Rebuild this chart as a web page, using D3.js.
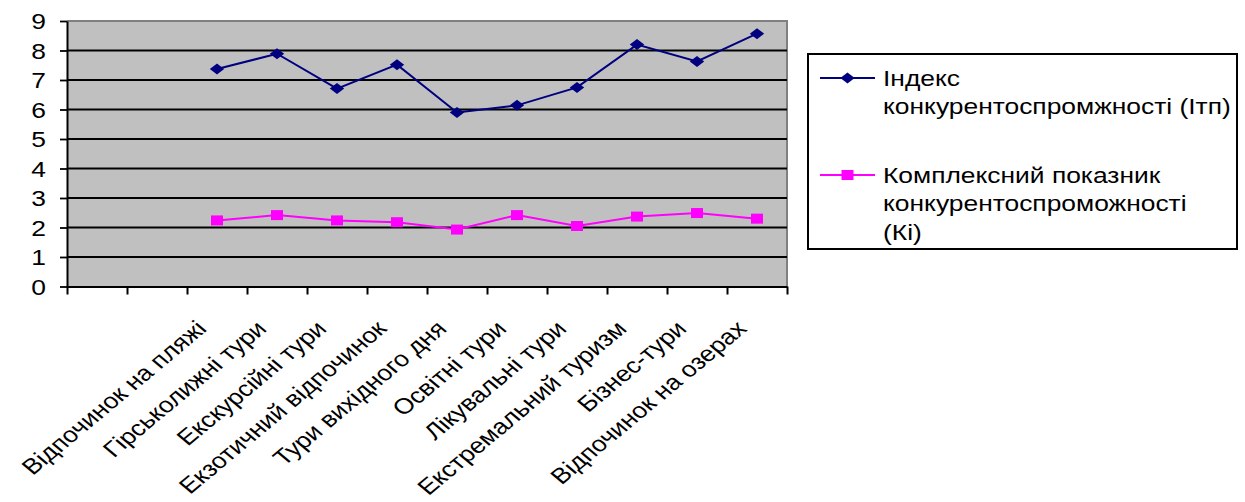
<!DOCTYPE html>
<html>
<head>
<meta charset="utf-8">
<script src="https://cdn.jsdelivr.net/npm/d3@7/dist/d3.min.js"></script>
<style>
  body { margin: 0; background: #fff; }
  svg { display: block; }
  text { font-family: "Liberation Sans", Arial, sans-serif; font-size: 22px; fill: #000; }
</style>
</head>
<body>
<svg id="chart" width="1245" height="502"></svg>
<script>
// Tour types along the horizontal axis
const categories = [
  "Відпочинок на пляжі", "Гірськолижні тури", "Екскурсійні тури",
  "Екзотичний відпочинок", "Тури вихідного дня", "Освітні тури",
  "Лікувальні тури", "Екстремальний туризм", "Бізнес-тури", "Відпочинок на озерах"
];
// Competitiveness index (Iтп)
const indexValues = [7.37, 7.89, 6.71, 7.52, 5.90, 6.14, 6.75, 8.20, 7.63, 8.57];
// Complex competitiveness indicator (Кі)
const complexValues = [2.24, 2.42, 2.24, 2.18, 1.93, 2.42, 2.05, 2.37, 2.49, 2.30];
// Vertical axis ticks
const yTicks = [0, 1, 2, 3, 4, 5, 6, 7, 8, 9];
// Legend entries, one array of lines per series
const legendLines = [
  ["Індекс", "конкурентоспромжності (Iтп)"],
  ["Комплексний показник", "конкурентоспроможності", "(Кі)"]
];
// Empty category slots before the first labelled one
const emptySlots = 2;

const S = 1.2; // horizontal widening of glyphs and markers
const svg = d3.select("#chart");

const plot = { left: 67, right: 787, top: 21, bottom: 286.5 };
const slotCount = emptySlots + categories.length;

const x = d3.scaleBand().domain(d3.range(slotCount)).range([plot.left, plot.right]).padding(0);
const xEdge = d3.scaleLinear().domain([0, slotCount]).range([plot.left, plot.right]);
const y = d3.scaleLinear().domain([0, 9]).range([plot.bottom, plot.top]);
const cx = i => x(i + emptySlots) + x.bandwidth() / 2;

// plot background
svg.append("rect")
  .attr("x", plot.left).attr("y", plot.top)
  .attr("width", plot.right - plot.left).attr("height", plot.bottom - plot.top)
  .attr("fill", "#C0C0C0");

// top and right frame
svg.append("path")
  .attr("d", `M${plot.left},${plot.top}H${plot.right}V${plot.bottom}`)
  .attr("fill", "none").attr("stroke", "#808080").attr("stroke-width", 2);

// horizontal gridlines
svg.append("g").selectAll("line")
  .data(yTicks.filter(t => t > 0 && t < 9))
  .join("line")
  .attr("x1", plot.left).attr("x2", plot.right)
  .attr("y1", d => y(d)).attr("y2", d => y(d))
  .attr("stroke", "#000").attr("stroke-width", 1.8);

// y axis
const yAxis = svg.append("g")
  .attr("transform", `translate(${plot.left},0)`)
  .call(d3.axisLeft(y).tickValues(yTicks).tickSize(7).tickSizeOuter(0).tickFormat(d3.format("d")));
yAxis.select(".domain").attr("stroke", "#000").attr("stroke-width", 2);
yAxis.selectAll(".tick line").attr("stroke", "#000").attr("stroke-width", 1.8);
yAxis.selectAll(".tick text")
  .attr("x", null).attr("dy", null)
  .attr("dominant-baseline", "central")
  .attr("transform", `translate(-21,0) scale(${S},1)`)
  .attr("font-size", null).attr("font-family", null);

// x axis
const xAxis = svg.append("g")
  .attr("transform", `translate(0,${plot.bottom})`)
  .call(d3.axisBottom(xEdge).tickValues(d3.range(slotCount + 1)).tickSize(8).tickSizeOuter(0).tickFormat(""));
xAxis.select(".domain").attr("stroke", "#000").attr("stroke-width", 2);
xAxis.selectAll(".tick line").attr("stroke", "#000").attr("stroke-width", 2);

// rotated category labels
svg.append("g").selectAll("text")
  .data(categories)
  .join("text")
  .attr("text-anchor", "end")
  .attr("transform", (d, i) => `translate(${cx(i) - 9},330) scale(${S},1) rotate(-45)`)
  .text(d => d);

// markers
const diamond = "M0,-5.5L6,0L0,5.5L-6,0Z";
const square = "M-5,-5L5,-5L5,5L-5,5Z";

const line = d3.line().x((d, i) => cx(i)).y(d => y(d));

function drawSeries(values, color, shape) {
  svg.append("path").datum(values)
    .attr("d", line).attr("fill", "none")
    .attr("stroke", color).attr("stroke-width", 2);
  svg.append("g").selectAll("path")
    .data(values)
    .join("path")
    .attr("d", shape)
    .attr("transform", (d, i) => `translate(${cx(i)},${y(d)}) scale(${S},1)`)
    .attr("fill", color);
}
drawSeries(indexValues, "#000080", diamond);
drawSeries(complexValues, "#FF00FF", square);

// legend
const legend = svg.append("g");
legend.append("rect")
  .attr("x", 808).attr("y", 54).attr("width", 429).attr("height", 195)
  .attr("fill", "#fff").attr("stroke", "#000").attr("stroke-width", 2);

const legendItems = [
  { color: "#000080", shape: diamond, y: 78, lines: legendLines[0] },
  { color: "#FF00FF", shape: square, y: 175, lines: legendLines[1] }
];
legendItems.forEach(item => {
  legend.append("line")
    .attr("x1", 820).attr("x2", 875).attr("y1", item.y).attr("y2", item.y)
    .attr("stroke", item.color).attr("stroke-width", 2);
  legend.append("path")
    .attr("d", item.shape)
    .attr("transform", `translate(847.5,${item.y}) scale(${S},1)`)
    .attr("fill", item.color);
  item.lines.forEach((t, k) => {
    legend.append("text")
      .attr("dominant-baseline", "central")
      .attr("transform", `translate(883,${item.y + k * 28.5}) scale(${S},1)`)
      .text(t);
  });
});
</script>
</body>
</html>
